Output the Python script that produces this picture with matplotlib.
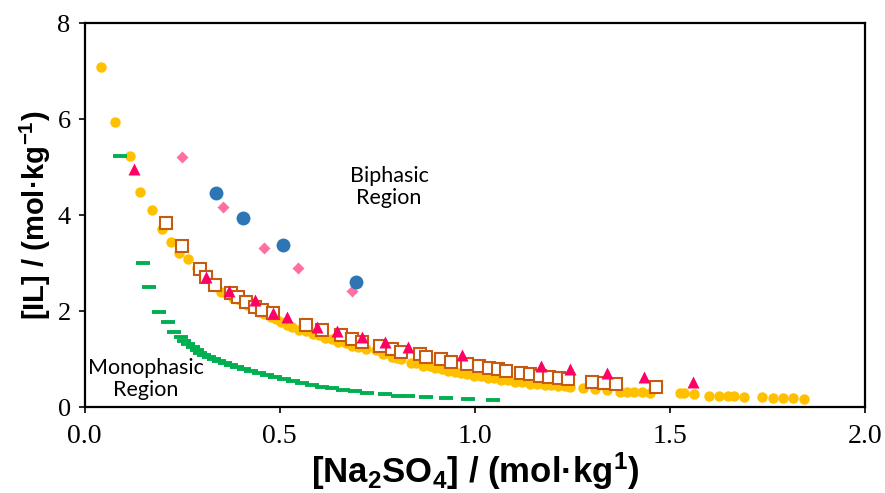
import matplotlib
matplotlib.use("Agg")
import matplotlib.pyplot as plt

# Binodal data, [Na2SO4] vs [IL] in mol/kg
yellow_x = [0.042, 0.078, 0.116, 0.141, 0.172, 0.198, 0.221, 0.241, 0.266, 0.287,
            0.310, 0.338, 0.366, 0.391, 0.417, 0.447, 0.478, 0.504, 0.532, 0.567,
            0.600, 0.634, 0.669, 0.702, 0.746, 0.787, 0.812, 0.837, 0.868, 0.899,
            0.932, 0.965, 0.998, 1.034, 1.067, 1.102, 1.141, 1.179, 1.212, 1.245,
            1.276, 1.307, 1.340, 1.371, 1.391, 1.409, 1.429, 1.450, 1.526, 1.536,
            1.562, 1.600, 1.625, 1.650, 1.663, 1.691, 1.737, 1.765, 1.790, 1.816,
            1.844,
            0.350, 0.380, 0.405, 0.430, 0.460, 0.490, 0.520, 0.550, 0.585, 0.615,
            0.650, 0.685, 0.720, 0.765, 0.800, 0.850, 0.885, 0.915, 0.950, 0.980,
            1.015, 1.050, 1.085, 1.120, 1.160, 1.195, 1.230]
yellow_y = [7.08, 5.94, 5.23, 4.48, 4.10, 3.71, 3.44, 3.21, 3.08, 2.90,
            2.71, 2.54, 2.38, 2.25, 2.13, 1.98, 1.88, 1.77, 1.67, 1.58,
            1.50, 1.42, 1.33, 1.25, 1.19, 1.04, 1.00, 0.92, 0.85, 0.81,
            0.75, 0.71, 0.65, 0.60, 0.56, 0.52, 0.48, 0.46, 0.44, 0.42,
            0.40, 0.38, 0.35, 0.31, 0.31, 0.31, 0.31, 0.29, 0.29, 0.29,
            0.27, 0.23, 0.23, 0.23, 0.23, 0.21, 0.21, 0.19, 0.19, 0.19,
            0.17,
            2.40, 2.27, 2.17, 2.06, 1.94, 1.83, 1.71, 1.61, 1.52, 1.44,
            1.35, 1.27, 1.20, 1.10, 1.02, 0.92, 0.85, 0.80, 0.74, 0.69,
            0.64, 0.60, 0.56, 0.52, 0.48, 0.46, 0.43]

green_x = [0.090, 0.149, 0.164, 0.190, 0.213, 0.228, 0.246, 0.256, 0.266, 0.277,
           0.287, 0.297, 0.307, 0.320, 0.333, 0.345, 0.361, 0.376, 0.391, 0.409,
           0.427, 0.447, 0.468, 0.488, 0.511, 0.534, 0.557, 0.583, 0.608, 0.634,
           0.662, 0.692, 0.723, 0.771, 0.804, 0.830, 0.876, 0.927, 0.983, 1.046]
green_y = [5.23, 3.00, 2.50, 1.98, 1.77, 1.56, 1.46, 1.375, 1.31, 1.25,
           1.19, 1.125, 1.08, 1.04, 1.00, 0.96, 0.92, 0.875, 0.83, 0.79,
           0.75, 0.71, 0.67, 0.625, 0.58, 0.54, 0.50, 0.46, 0.42, 0.40,
           0.35, 0.33, 0.29, 0.27, 0.23, 0.23, 0.21, 0.19, 0.17, 0.15]

square_x = [0.208, 0.251, 0.297, 0.312, 0.335, 0.376, 0.394, 0.414, 0.437, 0.455,
            0.483, 0.567, 0.608, 0.656, 0.685, 0.710, 0.758, 0.787, 0.812, 0.860,
            0.876, 0.914, 0.939, 0.980, 1.011, 1.036, 1.059, 1.080, 1.118, 1.141,
            1.166, 1.189, 1.215, 1.240, 1.301, 1.332, 1.363, 1.465]
square_y = [3.83, 3.35, 2.875, 2.71, 2.54, 2.375, 2.29, 2.19, 2.08, 2.02,
            1.96, 1.71, 1.60, 1.50, 1.42, 1.35, 1.27, 1.21, 1.15, 1.10,
            1.04, 1.00, 0.94, 0.90, 0.85, 0.81, 0.79, 0.75, 0.71, 0.69,
            0.65, 0.625, 0.60, 0.58, 0.52, 0.50, 0.48, 0.42]

tri_x = [0.126, 0.312, 0.371, 0.437, 0.483, 0.519, 0.595, 0.646, 0.710, 0.769,
         0.830, 0.967, 1.169, 1.243, 1.340, 1.434, 1.559]
tri_y = [4.96, 2.71, 2.42, 2.23, 1.96, 1.875, 1.67, 1.58, 1.46, 1.35,
         1.25, 1.08, 0.85, 0.79, 0.71, 0.625, 0.52]

diamond_x = [0.251, 0.356, 0.460, 0.547, 0.685]
diamond_y = [5.21, 4.17, 3.31, 2.90, 2.42]

blue_x = [0.338, 0.407, 0.509, 0.695]
blue_y = [4.46, 3.94, 3.375, 2.60]

plt.rcParams['mathtext.fontset'] = 'custom'
plt.rcParams['mathtext.rm'] = 'Liberation Sans:bold'
plt.rcParams['mathtext.it'] = 'Liberation Sans:bold'
plt.rcParams['mathtext.bf'] = 'Liberation Sans:bold'

fig = plt.figure(figsize=(8.85, 4.93), dpi=100)
ax = fig.add_axes([0.0955, 0.1744, 0.882, 0.7788])

ax.plot(yellow_x, yellow_y, 'o', color='#FFC000', ms=7.5, mec='none', zorder=2)
ax.plot(green_x, green_y, '_', color='#00B050', ms=10, mew=2.8, zorder=3)
ax.plot(diamond_x, diamond_y, 'D', color='#FF6F9F', ms=6, mec='none', zorder=3)
ax.plot(blue_x, blue_y, 'o', color='#2E75B6', ms=10, mec='none', zorder=3)
ax.plot(square_x, square_y, 's', mfc='white', mec='#C55A11', ms=8, mew=1.5, zorder=4)
ax.plot(tri_x, tri_y, '^', color='#FF0066', ms=8, mec='none', zorder=5)

ax.text(0.78, 4.58, 'Biphasic\nRegion', ha='center', va='center',
        fontsize=15.5, family='Lato', linespacing=1.15, zorder=6)
ax.text(0.157, 0.58, 'Monophasic\nRegion', ha='center', va='center',
        fontsize=15.5, family='Lato', linespacing=1.15, zorder=6)

ax.set_xlim(0, 2)
ax.set_ylim(0, 8)
ax.set_xticks([0, 0.5, 1.0, 1.5, 2.0])
ax.set_xticklabels(['0.0', '0.5', '1.0', '1.5', '2.0'])
ax.set_yticks([0, 2, 4, 6, 8])

for lbl in ax.get_xticklabels():
    lbl.set_family('Liberation Serif')
    lbl.set_fontsize(20)
for lbl in ax.get_yticklabels():
    lbl.set_family('Liberation Serif')
    lbl.set_fontsize(19)

ax.tick_params(axis='both', direction='out', length=4, width=1.2, color='black')
ax.tick_params(axis='x', pad=8)
ax.tick_params(axis='y', pad=6)
for s in ax.spines.values():
    s.set_linewidth(1.6)
    s.set_color('black')

ax.set_xlabel(r'[Na$_2$SO$_4$] / (mol·kg$^1$)', family='Liberation Sans',
              fontweight='bold', fontsize=25, labelpad=1)
ax.set_ylabel(r'[IL] / (mol·kg$^{-1}$)', family='Liberation Sans',
              fontweight='bold', fontsize=21, labelpad=3)

fig.savefig('out.png', dpi=100)
